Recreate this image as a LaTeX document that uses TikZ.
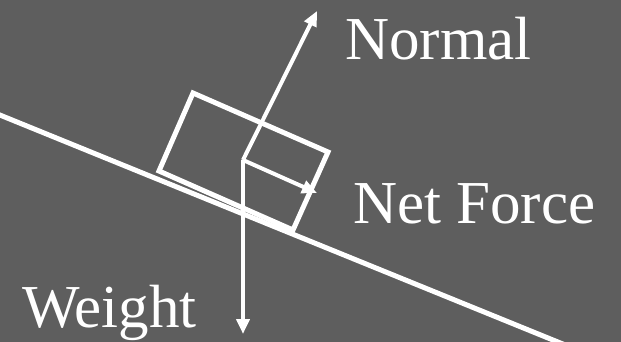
\documentclass[tikz,border=0pt]{standalone}
\usepackage{fontspec}
\setmainfont{Liberation Serif}[Ligatures=TeX]
\usetikzlibrary{arrows.meta}
\definecolor{slate}{RGB}{94,94,94}

\begin{document}
\begin{tikzpicture}[x=1pt,y=-1pt,
    force/.style={white,line width=4pt,-{Triangle[length=15pt,width=13pt]}},
    forcelabel/.style={white,anchor=base west,inner sep=0pt,font=\rmfamily\fontsize{61}{61}\selectfont}]
    % Background and frame
    \fill[slate] (0,0) rectangle (621,342);
    \useasboundingbox (0,0) rectangle (621,342);
    \clip (0,0) rectangle (621,342);

    % The slope
    \draw[white,line width=5pt] (-10,111) -- (580,351);

    % The block resting on it
    \draw[white,line width=5pt,line join=miter] (159,171) -- (293,230) -- (328,152) -- (193,93) -- cycle;

    % Forces from the centre
    \coordinate (centre) at (243,160);
    \coordinate (up) at (317,11);
    \coordinate (down) at (243,334);
    \coordinate (along) at (317,193);
    \draw[force] (centre) -- (up);
    \draw[force] (centre) -- (down);
    \draw[force] (centre) -- (along);

    % Labels
    \node[forcelabel] (normal) at (345,60) {Normal};
    \node[forcelabel] (net) at (353,223) {Net Force};
    \node[forcelabel] (weight) at (22,327) {Weight};
\end{tikzpicture}
\end{document}
